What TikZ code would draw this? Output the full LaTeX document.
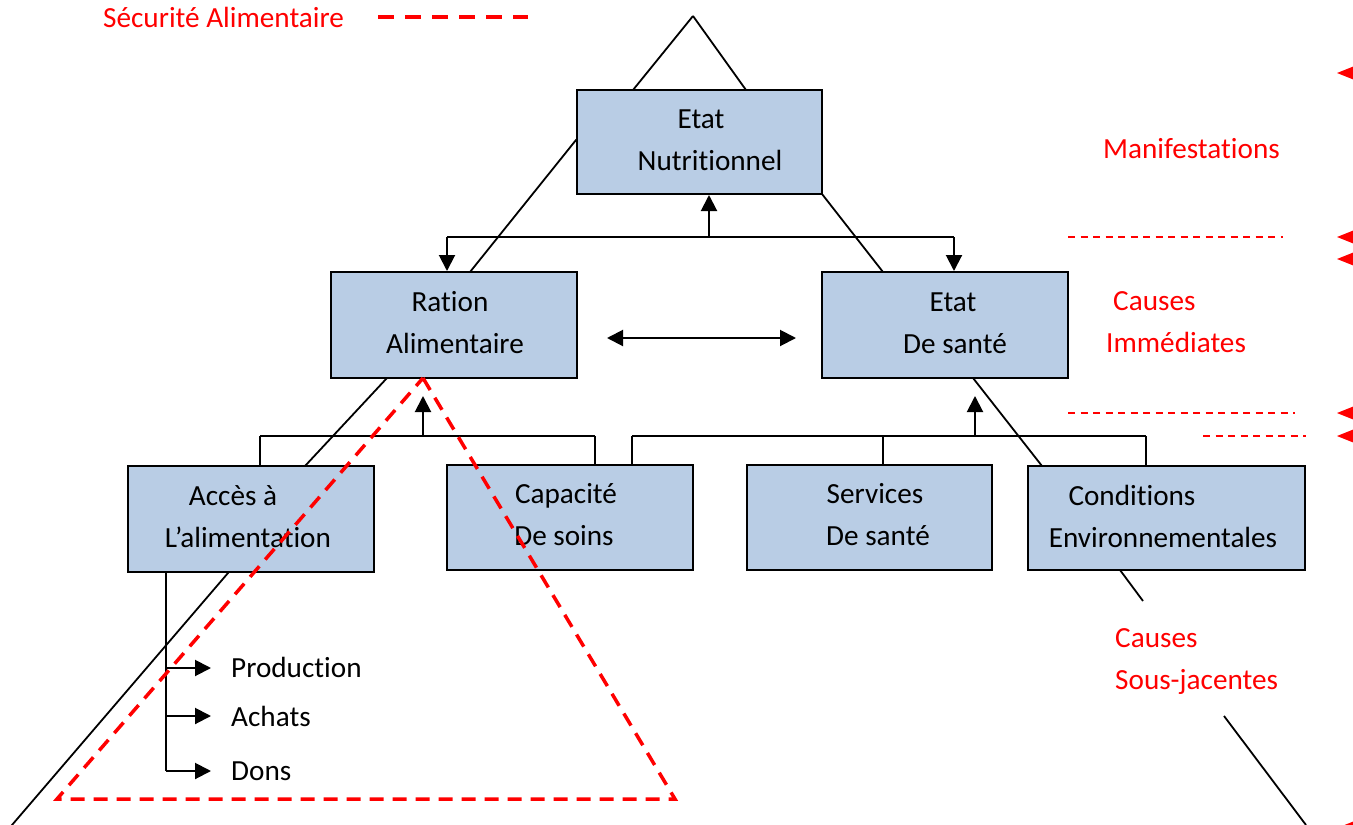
\documentclass[tikz,border=0pt]{standalone}
\usepackage{fontspec}
\setmainfont{Carlito}[Ligatures={NoCommon,NoContextual}]
\usetikzlibrary{arrows.meta}
\definecolor{boxblue}{RGB}{185,205,229}
\begin{document}
\begin{tikzpicture}[x=1pt,y=-1pt,
  box/.style={draw=black, line width=2pt, fill=boxblue, inner sep=0pt},
  conn/.style={draw=black, line width=2pt},
  arr/.style={conn, -{Triangle[length=16pt,width=16pt]}},
  darr/.style={conn, {Triangle[length=16pt,width=16pt]}-{Triangle[length=16pt,width=16pt]}},
  tri/.style={draw=black, line width=1.8pt, line join=miter},
  txt/.style={anchor=base, inner sep=0pt, font=\fontsize{29.2}{42}\selectfont},
  rtxt/.style={txt, anchor=base west, text=red},
  ltxt/.style={txt, anchor=base west},
  rdash/.style={draw=red, line width=1.6pt, dash pattern=on 7pt off 5.5pt},
  rtip/.style={fill=red},
]
\useasboundingbox (0,0) rectangle (1353,825);
\clip (0,0) rectangle (1353,825);

% big black triangle (hidden behind the boxes)
\draw[tri] (693,16) -- (633,90) -- (576,140) -- (470,272) -- (387,378)
  -- (305,466) -- (228,573) -- (0,839);
\draw[tri] (693,16) -- (746,90) -- (822,194) -- (883,272) -- (973,378)
  -- (1042,466) -- (1120,570) -- (1143,601);
\draw[tri] (1224,716) -- (1306,825);

% boxes
\node[box, minimum width=245pt, minimum height=104pt] (en) at (699.5,142) {};
\node[box, minimum width=246pt, minimum height=106pt] (ra) at (454,325) {};
\node[box, minimum width=246pt, minimum height=106pt] (es) at (945,325) {};
\node[box, minimum width=246pt, minimum height=106pt] (ac) at (251,519) {};
\node[box, minimum width=246pt, minimum height=105pt] (cs) at (570,517.5) {};
\node[box, minimum width=245pt, minimum height=105pt] (ss) at (869.5,517.5) {};
\node[box, minimum width=277pt, minimum height=104pt] (ce) at (1166.5,518) {};

% box texts
\node[txt] (en1) at (701,128) {Etat};
\node[txt] (en2) at (710,170) {Nutritionnel};
\node[txt] (ra1) at (450,311) {Ration};
\node[txt] (ra2) at (455,353) {Alimentaire};
\node[txt] (es1) at (953,311) {Etat};
\node[txt] (es2) at (955,353) {De santé};
\node[txt] (ac1) at (233,505) {Accès à};
\node[txt] (ac2) at (248,547) {L’alimentation};
\node[txt] (cs1) at (566,503) {Capacité};
\node[txt] (cs2) at (564,545) {De soins};
\node[txt] (ss1) at (875,503) {Services};
\node[txt] (ss2) at (878,545) {De santé};
\node[txt] (ce1) at (1132,505) {Conditions};
\node[txt] (ce2) at (1163,547) {Environnementales};

% connectors: Etat nutritionnel
\coordinate (j1) at (709,237);
\coordinate (j1l) at (447,237);
\coordinate (j1r) at (954,237);
\draw[conn] (j1l) -- (j1r);
\draw[arr] (j1) -- (j1 |- en.south);
\draw[arr] (j1l) -- (j1l |- ra.north);
\draw[arr] (j1r) -- (j1r |- es.north);

% double arrow
\coordinate (d1) at (607,338);
\coordinate (d2) at (796,338);
\draw[darr] (d1) -- (d2);

% connectors: Ration alimentaire
\coordinate (j2) at (423,436);
\coordinate (t2) at (423,396);
\coordinate (j2l) at (260,436);
\coordinate (j2r) at (595,436);
\draw[conn] (j2l) -- (j2r);
\draw[arr] (j2) -- (t2);
\draw[conn] (j2l) -- (j2l |- ac.north);
\draw[conn] (j2r) -- (j2r |- cs.north);

% connectors: Etat de sante
\coordinate (j3) at (975,436);
\coordinate (t3) at (975,396);
\coordinate (j3l) at (632,436);
\coordinate (j3m) at (883,436);
\coordinate (j3r) at (1146,436);
\draw[conn] (j3l) -- (j3r);
\draw[arr] (j3) -- (t3);
\draw[conn] (j3l) -- (j3l |- cs.north);
\draw[conn] (j3m) -- (j3m |- ss.north);
\draw[conn] (j3r) -- (j3r |- ce.north);

% Acces : production, achats, dons
\node[ltxt] (pr) at (231,677) {Production};
\node[ltxt] (ah) at (231,726) {Achats};
\node[ltxt] (dn) at (231,780) {Dons};
\coordinate (a0) at (166,572);
\coordinate (a1) at (166,668);
\coordinate (a2) at (166,716);
\coordinate (a3) at (166,771);
\coordinate (b1) at (211,668);
\coordinate (b2) at (211,716);
\coordinate (b3) at (211,771);
\draw[conn] (a0) -- (a3);
\draw[arr] (a1) -- (b1);
\draw[arr] (a2) -- (b2);
\draw[arr] (a3) -- (b3);

% red dashed triangle (food security)
\draw[red, line width=3.5pt, dash pattern=on 14pt off 9pt]
  (423,378) -- (675,799) -- (57,799) -- cycle;

% legend
\node[rtxt] (leg) at (103,27) {Sécurité Alimentaire};
\draw[red, line width=4.5pt, dash pattern=on 16pt off 11pt] (378,17) -- (528,17);

% right side labels
\node[rtxt] (man) at (1103,158) {Manifestations};
\node[rtxt] (ci1) at (1113,310) {Causes};
\node[rtxt] (ci2) at (1106,352) {Immédiates};
\node[rtxt] (cj1) at (1115,647) {Causes};
\node[rtxt] (cj2) at (1115,689) {Sous-jacentes};

\draw[rdash] (1068,237) -- (1283,237);
\draw[rdash] (1068,413) -- (1295,413);
\draw[rdash] (1203,436) -- (1306,436);

% red arrow tips at right edge
\foreach \yy in {73,237,259,413,436,828}{
  \fill[rtip] (1337,\yy) -- (1357,\yy-8) -- (1357,\yy+8) -- cycle;
}
\end{tikzpicture}
\end{document}
